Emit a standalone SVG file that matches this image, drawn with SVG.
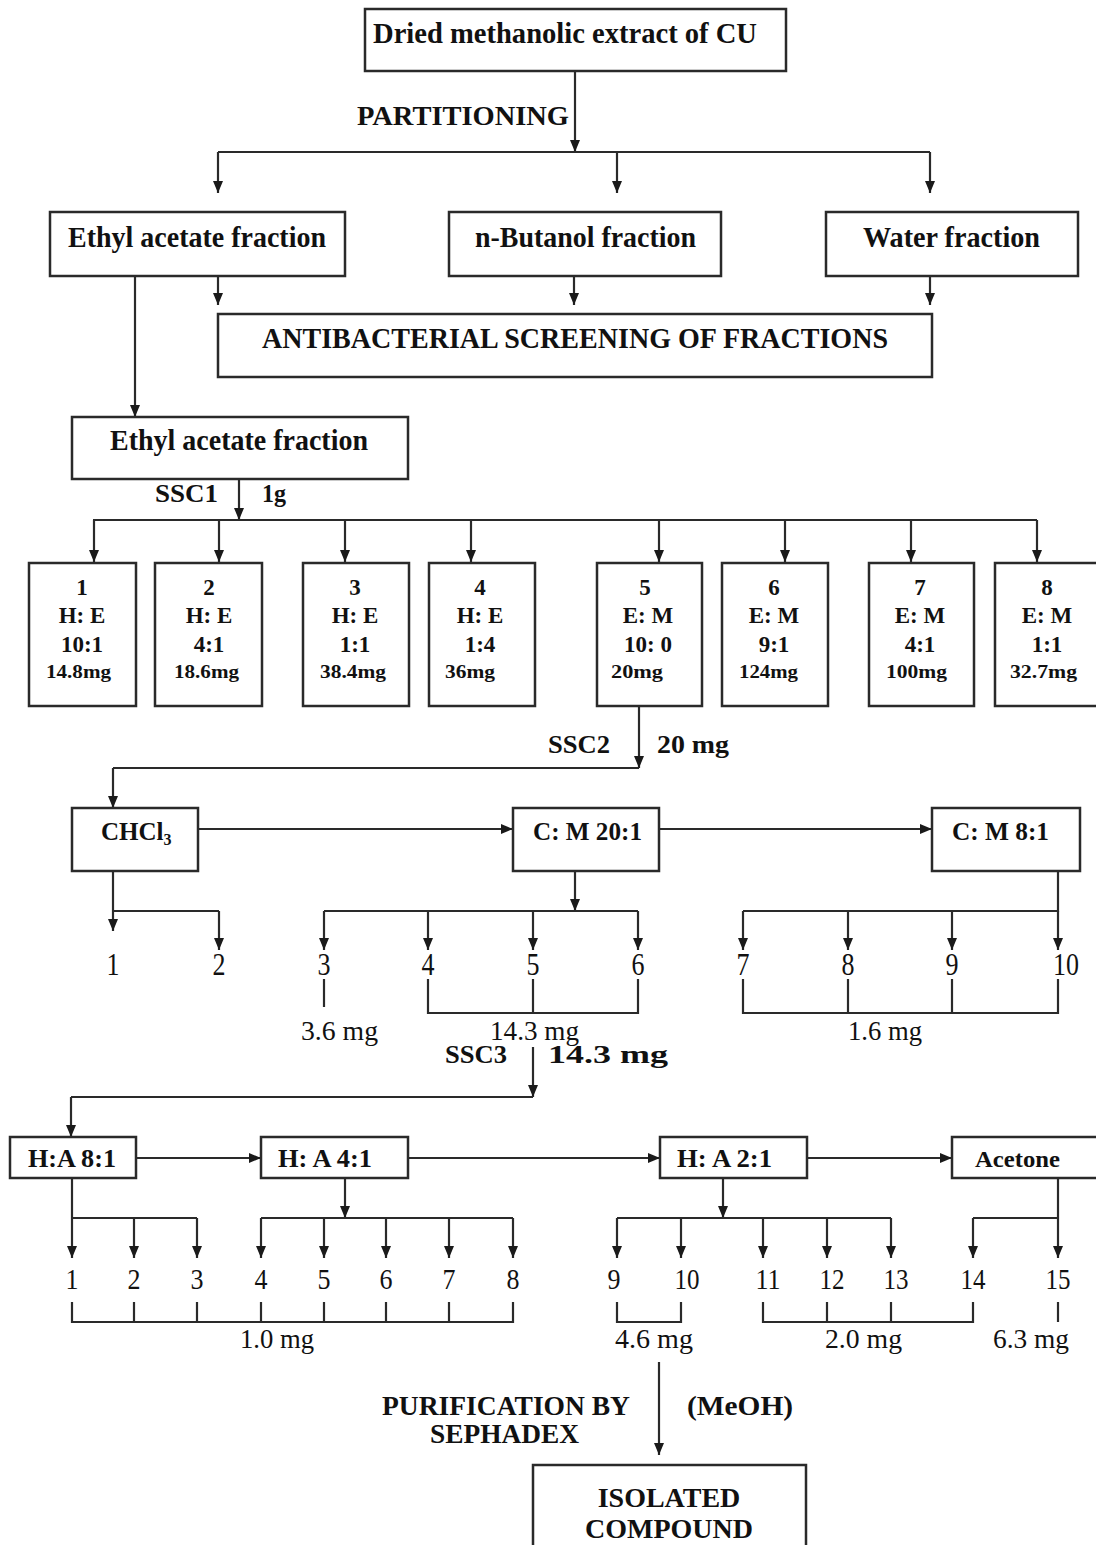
<svg xmlns="http://www.w3.org/2000/svg" width="1096" height="1545" viewBox="0 0 1096 1545">
<style>
.box{fill:#fff;stroke:#2a2a2a;stroke-width:2.5}
.ln{fill:none;stroke:#2a2a2a;stroke-width:2.2}
.ar{fill:none;stroke:#2a2a2a;stroke-width:2.2;marker-end:url(#ah)}
.b{font-family:"Liberation Serif","Times New Roman",serif;font-weight:bold;fill:#111}
.r{font-family:"Liberation Serif","Times New Roman",serif;fill:#111}
.c{text-anchor:middle}
.d1{font-size:31px}
.d2{font-size:30px}
</style>
<defs>
<marker id="ah" viewBox="0 0 12 10" markerWidth="12" markerHeight="10" refX="12" refY="5" orient="auto" markerUnits="userSpaceOnUse">
<path d="M0,0 L12,5 L0,10 z" fill="#1a1a1a"/>
</marker>
</defs>
<rect width="1096" height="1545" fill="#fff"/>

<g id="connectors">
<path class="ar" d="M575,71 V152"/>
<path class="ln" d="M218,152 H930"/>
<path class="ar" d="M218,152 V193"/>
<path class="ar" d="M617,152 V193"/>
<path class="ar" d="M930,152 V193"/>
<path class="ar" d="M135,276 V417"/>
<path class="ar" d="M218,276 V305"/>
<path class="ar" d="M574,276 V305"/>
<path class="ar" d="M930,276 V305"/>
<path class="ar" d="M239,479 V520"/>
<path class="ln" d="M93,520 H1037"/>
<path class="ar" d="M94,520 V562"/>
<path class="ar" d="M219,520 V562"/>
<path class="ar" d="M345,520 V562"/>
<path class="ar" d="M471,520 V562"/>
<path class="ar" d="M659,520 V562"/>
<path class="ar" d="M785,520 V562"/>
<path class="ar" d="M911,520 V562"/>
<path class="ar" d="M1037,520 V562"/>
<path class="ar" d="M639,706 V768"/>
<path class="ln" d="M639,768 H113"/>
<path class="ar" d="M113,768 V808"/>
<path class="ar" d="M198,829 H513"/>
<path class="ar" d="M659,829 H932"/>
<path class="ar" d="M113,871 V931"/>
<path class="ln" d="M113,911 H219"/>
<path class="ar" d="M219,911 V950"/>
<path class="ar" d="M575,871 V911"/>
<path class="ln" d="M324,911 H638"/>
<path class="ar" d="M324,911 V950"/>
<path class="ar" d="M428,911 V950"/>
<path class="ar" d="M533,911 V950"/>
<path class="ar" d="M638,911 V950"/>
<path class="ln" d="M1058,871 V911 H743"/>
<path class="ar" d="M743,911 V950"/>
<path class="ar" d="M848,911 V950"/>
<path class="ar" d="M952,911 V950"/>
<path class="ar" d="M1058,911 V950"/>
<path class="ln" d="M324,979 V1007"/>
<path class="ln" d="M428,979 V1013 H638 V979 M533,979 V1013"/>
<path class="ln" d="M743,979 V1013 H1058 V979 M848,979 V1013 M952,979 V1013"/>
<path class="ar" d="M533,1047 V1097"/>
<path class="ln" d="M533,1097 H71"/>
<path class="ar" d="M71,1097 V1137"/>
<path class="ar" d="M136,1158 H261"/>
<path class="ar" d="M408,1158 H660"/>
<path class="ar" d="M807,1158 H952"/>
<path class="ar" d="M72,1178 V1258"/>
<path class="ln" d="M72,1218 H197"/>
<path class="ar" d="M134,1218 V1258"/>
<path class="ar" d="M197,1218 V1258"/>
<path class="ar" d="M345,1178 V1218"/>
<path class="ln" d="M261,1218 H513"/>
<path class="ar" d="M261,1218 V1258"/>
<path class="ar" d="M324,1218 V1258"/>
<path class="ar" d="M386,1218 V1258"/>
<path class="ar" d="M449,1218 V1258"/>
<path class="ar" d="M513,1218 V1258"/>
<path class="ar" d="M723,1178 V1218"/>
<path class="ln" d="M617,1218 H891"/>
<path class="ar" d="M617,1218 V1258"/>
<path class="ar" d="M681,1218 V1258"/>
<path class="ar" d="M763,1218 V1258"/>
<path class="ar" d="M827,1218 V1258"/>
<path class="ar" d="M891,1218 V1258"/>
<path class="ar" d="M1058,1178 V1258"/>
<path class="ln" d="M973,1218 H1058"/>
<path class="ar" d="M973,1218 V1258"/>
<path class="ln" d="M72,1302 V1322 H513 V1302 M134,1302 V1322 M197,1302 V1322 M261,1302 V1322 M324,1302 V1322 M386,1302 V1322 M449,1302 V1322"/>
<path class="ln" d="M617,1302 V1322 H681 V1302"/>
<path class="ln" d="M763,1302 V1322 H973 V1302 M827,1302 V1322 M891,1302 V1322"/>
<path class="ln" d="M1058,1302 V1322"/>
<path class="ar" d="M659,1362 V1455"/>
</g>

<g id="labels">
<text class="b" x="357" y="125" font-size="27" textLength="212" lengthAdjust="spacingAndGlyphs">PARTITIONING</text>
<text class="b" x="155" y="502" font-size="25" textLength="63" lengthAdjust="spacingAndGlyphs">SSC1</text>
<text class="b" x="262" y="502" font-size="25" textLength="24" lengthAdjust="spacingAndGlyphs">1g</text>
<text class="b" x="548" y="753" font-size="25" textLength="62" lengthAdjust="spacingAndGlyphs">SSC2</text>
<text class="b" x="657" y="753" font-size="26" textLength="72" lengthAdjust="spacingAndGlyphs">20 mg</text>
<text class="r c d1" x="113" y="975" textLength="13" lengthAdjust="spacingAndGlyphs">1</text>
<text class="r c d1" x="219" y="975" textLength="13" lengthAdjust="spacingAndGlyphs">2</text>
<text class="r c d1" x="324" y="975" textLength="13" lengthAdjust="spacingAndGlyphs">3</text>
<text class="r c d1" x="428" y="975" textLength="13" lengthAdjust="spacingAndGlyphs">4</text>
<text class="r c d1" x="533" y="975" textLength="13" lengthAdjust="spacingAndGlyphs">5</text>
<text class="r c d1" x="638" y="975" textLength="13" lengthAdjust="spacingAndGlyphs">6</text>
<text class="r c d1" x="743" y="975" textLength="13" lengthAdjust="spacingAndGlyphs">7</text>
<text class="r c d1" x="848" y="975" textLength="13" lengthAdjust="spacingAndGlyphs">8</text>
<text class="r c d1" x="952" y="975" textLength="13" lengthAdjust="spacingAndGlyphs">9</text>
<text class="r c d1" x="1066" y="975" textLength="26" lengthAdjust="spacingAndGlyphs">10</text>
<text class="r" x="301" y="1040" font-size="27" textLength="77" lengthAdjust="spacingAndGlyphs">3.6 mg</text>
<text class="r" x="490" y="1040" font-size="27" textLength="89" lengthAdjust="spacingAndGlyphs">14.3 mg</text>
<text class="r" x="848" y="1040" font-size="27" textLength="74" lengthAdjust="spacingAndGlyphs">1.6 mg</text>
<text class="b" x="445" y="1063" font-size="25" textLength="62" lengthAdjust="spacingAndGlyphs">SSC3</text>
<text class="b" x="548" y="1063" font-size="26" textLength="120" lengthAdjust="spacingAndGlyphs">14.3 mg</text>
<text class="r c d2" x="72" y="1289" textLength="13" lengthAdjust="spacingAndGlyphs">1</text>
<text class="r c d2" x="134" y="1289" textLength="13" lengthAdjust="spacingAndGlyphs">2</text>
<text class="r c d2" x="197" y="1289" textLength="13" lengthAdjust="spacingAndGlyphs">3</text>
<text class="r c d2" x="261" y="1289" textLength="13" lengthAdjust="spacingAndGlyphs">4</text>
<text class="r c d2" x="324" y="1289" textLength="13" lengthAdjust="spacingAndGlyphs">5</text>
<text class="r c d2" x="386" y="1289" textLength="13" lengthAdjust="spacingAndGlyphs">6</text>
<text class="r c d2" x="449" y="1289" textLength="13" lengthAdjust="spacingAndGlyphs">7</text>
<text class="r c d2" x="513" y="1289" textLength="13" lengthAdjust="spacingAndGlyphs">8</text>
<text class="r c d2" x="614" y="1289" textLength="13" lengthAdjust="spacingAndGlyphs">9</text>
<text class="r c d2" x="687" y="1289" textLength="25" lengthAdjust="spacingAndGlyphs">10</text>
<text class="r c d2" x="768" y="1289" textLength="25" lengthAdjust="spacingAndGlyphs">11</text>
<text class="r c d2" x="832" y="1289" textLength="25" lengthAdjust="spacingAndGlyphs">12</text>
<text class="r c d2" x="896" y="1289" textLength="25" lengthAdjust="spacingAndGlyphs">13</text>
<text class="r c d2" x="973" y="1289" textLength="25" lengthAdjust="spacingAndGlyphs">14</text>
<text class="r c d2" x="1058" y="1289" textLength="25" lengthAdjust="spacingAndGlyphs">15</text>
<text class="r" x="240" y="1348" font-size="28" textLength="74" lengthAdjust="spacingAndGlyphs">1.0 mg</text>
<text class="r" x="615" y="1348" font-size="28" textLength="78" lengthAdjust="spacingAndGlyphs">4.6 mg</text>
<text class="r" x="825" y="1348" font-size="28" textLength="77" lengthAdjust="spacingAndGlyphs">2.0 mg</text>
<text class="r" x="993" y="1348" font-size="28" textLength="76" lengthAdjust="spacingAndGlyphs">6.3 mg</text>
<text class="b" x="382" y="1415" font-size="27" textLength="248" lengthAdjust="spacingAndGlyphs">PURIFICATION BY</text>
<text class="b" x="430" y="1443" font-size="27" textLength="149" lengthAdjust="spacingAndGlyphs">SEPHADEX</text>
<text class="b" x="687" y="1415" font-size="27" textLength="106" lengthAdjust="spacingAndGlyphs">(MeOH)</text>
</g>

<g id="n-extract">
<rect class="box" x="365" y="9" width="421" height="62"/>
<text class="b" x="373" y="43" font-size="29" textLength="384" lengthAdjust="spacingAndGlyphs">Dried methanolic extract of CU</text>
</g>
<g id="n-ethyl1">
<rect class="box" x="50" y="212" width="295" height="64"/>
<text class="b" x="68" y="247" font-size="30" textLength="258" lengthAdjust="spacingAndGlyphs">Ethyl acetate fraction</text>
</g>
<g id="n-butanol">
<rect class="box" x="449" y="212" width="272" height="64"/>
<text class="b" x="475" y="247" font-size="30" textLength="221" lengthAdjust="spacingAndGlyphs">n-Butanol fraction</text>
</g>
<g id="n-water">
<rect class="box" x="826" y="212" width="252" height="64"/>
<text class="b" x="863" y="247" font-size="30" textLength="177" lengthAdjust="spacingAndGlyphs">Water fraction</text>
</g>
<g id="n-screening">
<rect class="box" x="218" y="314" width="714" height="63"/>
<text class="b" x="262" y="348" font-size="29" textLength="626" lengthAdjust="spacingAndGlyphs">ANTIBACTERIAL SCREENING OF FRACTIONS</text>
</g>
<g id="n-ethyl2">
<rect class="box" x="72" y="417" width="336" height="62"/>
<text class="b" x="110" y="450" font-size="30" textLength="258" lengthAdjust="spacingAndGlyphs">Ethyl acetate fraction</text>
</g>

<g id="f1">
<rect class="box" x="29" y="563" width="107" height="143"/>
<text class="b c" x="82" y="595" font-size="23">1</text>
<text class="b c" x="82" y="623" font-size="23">H: E</text>
<text class="b c" x="82" y="652" font-size="23">10:1</text>
<text class="b" x="46" y="678" font-size="19" textLength="65" lengthAdjust="spacingAndGlyphs">14.8mg</text>
</g>
<g id="f2">
<rect class="box" x="155" y="563" width="107" height="143"/>
<text class="b c" x="209" y="595" font-size="23">2</text>
<text class="b c" x="209" y="623" font-size="23">H: E</text>
<text class="b c" x="209" y="652" font-size="23">4:1</text>
<text class="b" x="174" y="678" font-size="19" textLength="65" lengthAdjust="spacingAndGlyphs">18.6mg</text>
</g>
<g id="f3">
<rect class="box" x="303" y="563" width="106" height="143"/>
<text class="b c" x="355" y="595" font-size="23">3</text>
<text class="b c" x="355" y="623" font-size="23">H: E</text>
<text class="b c" x="355" y="652" font-size="23">1:1</text>
<text class="b" x="320" y="678" font-size="19" textLength="66" lengthAdjust="spacingAndGlyphs">38.4mg</text>
</g>
<g id="f4">
<rect class="box" x="429" y="563" width="106" height="143"/>
<text class="b c" x="480" y="595" font-size="23">4</text>
<text class="b c" x="480" y="623" font-size="23">H: E</text>
<text class="b c" x="480" y="652" font-size="23">1:4</text>
<text class="b" x="445" y="678" font-size="19" textLength="50" lengthAdjust="spacingAndGlyphs">36mg</text>
</g>
<g id="f5">
<rect class="box" x="597" y="563" width="105" height="143"/>
<text class="b c" x="645" y="595" font-size="23">5</text>
<text class="b c" x="648" y="623" font-size="23">E: M</text>
<text class="b c" x="648" y="652" font-size="23">10: 0</text>
<text class="b" x="611" y="678" font-size="19" textLength="52" lengthAdjust="spacingAndGlyphs">20mg</text>
</g>
<g id="f6">
<rect class="box" x="722" y="563" width="106" height="143"/>
<text class="b c" x="774" y="595" font-size="23">6</text>
<text class="b c" x="774" y="623" font-size="23">E: M</text>
<text class="b c" x="774" y="652" font-size="23">9:1</text>
<text class="b" x="739" y="678" font-size="19" textLength="59" lengthAdjust="spacingAndGlyphs">124mg</text>
</g>
<g id="f7">
<rect class="box" x="869" y="563" width="105" height="143"/>
<text class="b c" x="920" y="595" font-size="23">7</text>
<text class="b c" x="920" y="623" font-size="23">E: M</text>
<text class="b c" x="920" y="652" font-size="23">4:1</text>
<text class="b" x="886" y="678" font-size="19" textLength="61" lengthAdjust="spacingAndGlyphs">100mg</text>
</g>
<g id="f8">
<rect class="box" x="995" y="563" width="110" height="143"/>
<text class="b c" x="1047" y="595" font-size="23">8</text>
<text class="b c" x="1047" y="623" font-size="23">E: M</text>
<text class="b c" x="1047" y="652" font-size="23">1:1</text>
<text class="b" x="1010" y="678" font-size="19" textLength="67" lengthAdjust="spacingAndGlyphs">32.7mg</text>
</g>

<g id="n-chcl3">
<rect class="box" x="72" y="808" width="126" height="63"/>
<text class="b" x="101" y="840" font-size="25">CHCl<tspan font-size="16" dy="5">3</tspan></text>
</g>
<g id="n-cm20">
<rect class="box" x="513" y="808" width="146" height="63"/>
<text class="b" x="533" y="840" font-size="25" textLength="109" lengthAdjust="spacingAndGlyphs">C: M 20:1</text>
</g>
<g id="n-cm8">
<rect class="box" x="932" y="808" width="148" height="63"/>
<text class="b" x="952" y="840" font-size="25" textLength="97" lengthAdjust="spacingAndGlyphs">C: M 8:1</text>
</g>

<g id="n-ha8">
<rect class="box" x="10" y="1137" width="126" height="41"/>
<text class="b" x="28" y="1167" font-size="25" textLength="88" lengthAdjust="spacingAndGlyphs">H:A 8:1</text>
</g>
<g id="n-ha4">
<rect class="box" x="261" y="1137" width="147" height="41"/>
<text class="b" x="278" y="1167" font-size="25" textLength="94" lengthAdjust="spacingAndGlyphs">H: A 4:1</text>
</g>
<g id="n-ha2">
<rect class="box" x="660" y="1137" width="147" height="41"/>
<text class="b" x="677" y="1167" font-size="25" textLength="95" lengthAdjust="spacingAndGlyphs">H: A 2:1</text>
</g>
<g id="n-acetone">
<rect class="box" x="952" y="1137" width="150" height="41"/>
<text class="b" x="975" y="1167" font-size="23" textLength="85" lengthAdjust="spacingAndGlyphs">Acetone</text>
</g>

<g id="n-isolated">
<rect class="box" x="533" y="1465" width="273" height="90"/>
<text class="b c" x="669" y="1507" font-size="28">ISOLATED</text>
<text class="b c" x="669" y="1538" font-size="28">COMPOUND</text>
</g>
</svg>
